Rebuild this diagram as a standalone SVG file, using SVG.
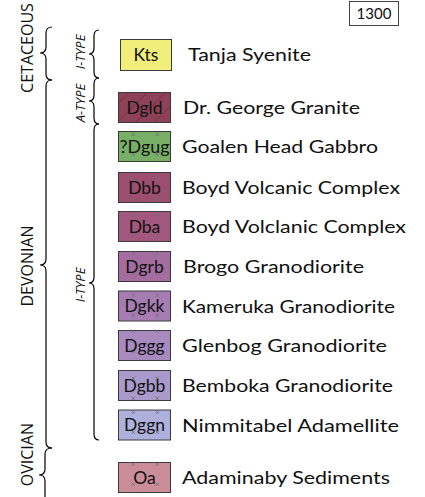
<svg xmlns="http://www.w3.org/2000/svg" xmlns:xlink="http://www.w3.org/1999/xlink" width="425" height="497" viewBox="0 0 425 497">
<style>
.box{stroke:#3a3a3a;stroke-width:1}
.bl{font-family:Lato,"Open Sans","Liberation Sans",sans-serif;font-size:17.5px;fill:#111;text-anchor:middle}
.lb{font-family:Lato,"Open Sans","Liberation Sans",sans-serif;font-size:17.5px;fill:#111}
.era{font-family:"Open Sans","Liberation Sans",sans-serif;font-size:16px;fill:#111;text-anchor:middle}
.typ{font-family:"Open Sans","Liberation Sans",sans-serif;font-size:13px;font-style:italic;fill:#111;text-anchor:middle}
.brace{fill:none;stroke:#000;stroke-width:1.2}
.xx{stroke:#6e6e6e;stroke-width:0.8;fill:none}
</style>
<defs>
<pattern id="hatch" patternUnits="userSpaceOnUse" width="13" height="13" patternTransform="rotate(45)">
<line x1="0" y1="0" x2="0" y2="13" stroke="#5e2436" stroke-width="0.9"/>
</pattern>
<g id="crosses" class="xx">
<path d="M13.5,1.5 l3.5,3.5 M17,1.5 l-3.5,3.5 M37.5,1.5 l3.5,3.5 M41,1.5 l-3.5,3.5 M13.5,21.5 l3.5,3.5 M17,21.5 l-3.5,3.5 M37.5,21.5 l3.5,3.5 M41,21.5 l-3.5,3.5"/>
</g>
</defs>

<g id="connectors">
<path class="brace" d="M52,27 Q46,27 46,33 L46,47 Q46,53 40,53 Q46,53 46,59 L46,74 Q46,80 52,80"/>
<path class="brace" d="M52,80 Q46,80 46,86 L46,259 Q46,265 40,265 Q46,265 46,271 L46,442 Q46,448 52,448"/>
<path class="brace" d="M52,448 Q45,448 45,454 L45,469 Q45,475 39,475 Q45,475 45,481 L45,520"/>
<path class="brace" d="M99,30 Q94,30 94,36 L94,48 Q94,54 89,54 Q94,54 94,60 L94,72 Q94,78 99,78"/>
<path class="brace" d="M99,78 Q94,78 94,84 L94,95 Q94,101 89,101 Q94,101 94,107 L94,118 Q94,124 99,124"/>
<path class="brace" d="M99,124 Q94,124 94,130 L94,277 Q94,283 89,283 Q94,283 94,289 L94,434 Q94,440 99,440"/>
</g>

<g id="labels-periods">
<text class="era" transform="translate(33,48) rotate(-90)">CETACEOUS</text>
<text class="era" transform="translate(33,266) rotate(-90)">DEVONIAN</text>
<text class="era" transform="translate(33,423) rotate(-90)" style="text-anchor:end">OVICIAN</text>
<text class="typ" transform="translate(85,52) rotate(-90)">I-TYPE</text>
<text class="typ" transform="translate(85,103) rotate(-90)">A-TYPE</text>
<text class="typ" transform="translate(85,285) rotate(-90)">I-TYPE</text>
</g>

<g id="scale">
<rect x="349.5" y="1.5" width="49" height="24" fill="#fff" stroke="#444" stroke-width="1"/>
<text x="374" y="19" font-family="Lato,'Open Sans',sans-serif" font-size="15" text-anchor="middle" fill="#111">1300</text>
</g>

<g id="Kts">
<rect class="box" x="120.5" y="39.5" width="51" height="31" fill="#F2EE7C"/>
<text class="bl" x="146" y="61">Kts</text>
<text class="lb" x="188" y="61" textLength="123" lengthAdjust="spacingAndGlyphs">Tanja Syenite</text>
</g>
<g id="Dgld">
<rect class="box" x="118.5" y="92.5" width="52" height="30" fill="#8E4257"/>
<rect x="119" y="93" width="51" height="29" fill="url(#hatch)"/>
<text class="bl" x="144.5" y="113.5">Dgld</text>
<text class="lb" x="183" y="114" textLength="177" lengthAdjust="spacingAndGlyphs">Dr. George Granite</text>
</g>
<g id="Dgug">
<rect class="box" x="118.5" y="131.5" width="52" height="30" fill="#78AF66"/>
<use href="#crosses" x="118" y="131"/>
<text class="bl" x="144.5" y="152.5" textLength="50" lengthAdjust="spacingAndGlyphs">?Dgug</text>
<text class="lb" x="182" y="153" textLength="196" lengthAdjust="spacingAndGlyphs">Goalen Head Gabbro</text>
</g>
<g id="Dbb">
<rect class="box" x="118.5" y="172.5" width="52" height="30" fill="#9B4E6E"/>
<use href="#crosses" x="118" y="176"/>
<text class="bl" x="144.5" y="193.5">Dbb</text>
<text class="lb" x="182" y="194" textLength="218" lengthAdjust="spacingAndGlyphs">Boyd Volcanic Complex</text>
</g>
<g id="Dba">
<rect class="box" x="118.5" y="211.5" width="52" height="30" fill="#A2587E"/>
<use href="#crosses" x="118" y="212"/>
<text class="bl" x="144.5" y="232.5">Dba</text>
<text class="lb" x="182" y="233" textLength="224" lengthAdjust="spacingAndGlyphs">Boyd Volclanic Complex</text>
</g>
<g id="Dgrb">
<rect class="box" x="118.5" y="251.5" width="52" height="30" fill="#A46DA0"/>
<use href="#crosses" x="118" y="250"/>
<text class="bl" x="144.5" y="272.5">Dgrb</text>
<text class="lb" x="183" y="273" textLength="181" lengthAdjust="spacingAndGlyphs">Brogo Granodiorite</text>
</g>
<g id="Dgkk">
<rect class="box" x="118.5" y="291" width="52" height="30" fill="#A67CB2"/>
<use href="#crosses" x="118" y="292"/>
<text class="bl" x="144.5" y="312">Dgkk</text>
<text class="lb" x="182" y="312.5" textLength="213" lengthAdjust="spacingAndGlyphs">Kameruka Granodiorite</text>
</g>
<g id="Dggg">
<rect class="box" x="118.5" y="330.5" width="52" height="30" fill="#A88ABF"/>
<use href="#crosses" x="118" y="328"/>
<text class="bl" x="144.5" y="351.5">Dggg</text>
<text class="lb" x="182" y="352" textLength="205" lengthAdjust="spacingAndGlyphs">Glenbog Granodiorite</text>
</g>
<g id="Dgbb">
<rect class="box" x="118.5" y="370.5" width="52" height="30" fill="#A99ACB"/>
<use href="#crosses" x="118" y="375"/>
<text class="bl" x="144.5" y="391.5">Dgbb</text>
<text class="lb" x="182" y="392" textLength="211" lengthAdjust="spacingAndGlyphs">Bemboka Granodiorite</text>
</g>
<g id="Dggn">
<rect class="box" x="118.5" y="410" width="52" height="30" fill="#AEB1DB"/>
<use href="#crosses" x="118" y="409"/>
<text class="bl" x="144.5" y="431">Dggn</text>
<text class="lb" x="182" y="431.5" textLength="217" lengthAdjust="spacingAndGlyphs">Nimmitabel Adamellite</text>
</g>
<g id="Oa">
<rect class="box" x="118.5" y="462.5" width="52" height="30" fill="#CB8E99"/>
<use href="#crosses" x="118" y="461"/>
<text class="bl" x="144.5" y="483.5">Oa</text>
<text class="lb" x="182" y="484" textLength="208" lengthAdjust="spacingAndGlyphs">Adaminaby Sediments</text>
</g>
</svg>
